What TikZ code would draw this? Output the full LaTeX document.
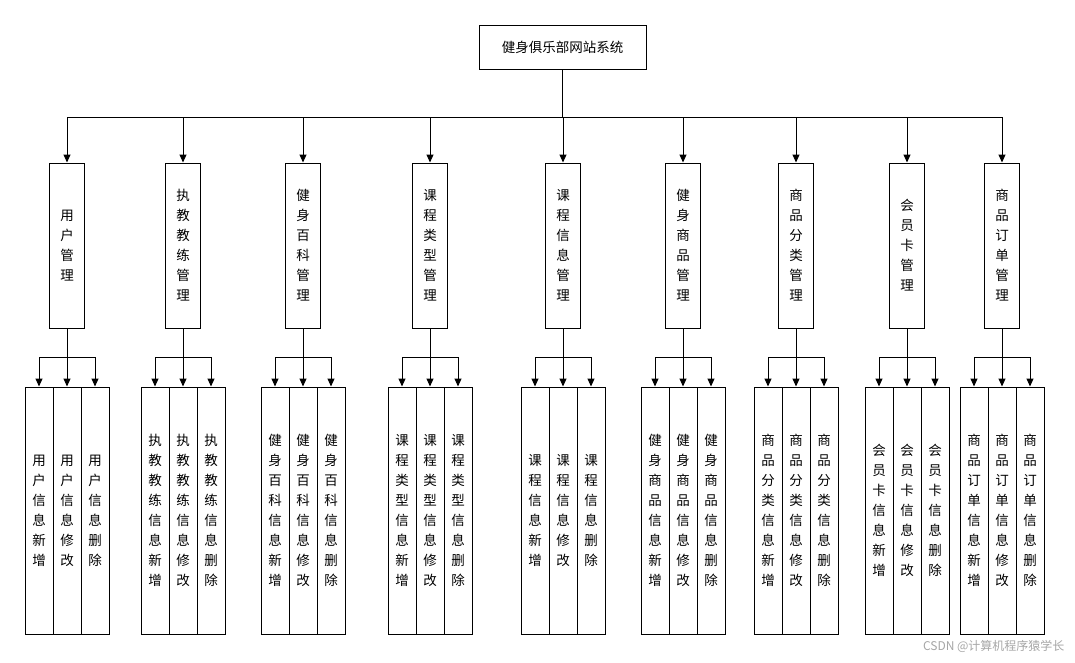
\documentclass[tikz,border=0pt]{standalone}
\usepackage{fontspec}
\setmainfont{Noto Sans CJK SC}
\usetikzlibrary{arrows.meta}
\begin{document}
\begin{tikzpicture}[x=1pt,y=-1pt,
  box/.style={draw,line width=1pt,inner sep=0pt,align=center,font=\fontsize{13.5}{20}\selectfont},
  lv2/.style={box,minimum width=35pt,minimum height=165pt},
  lv3/.style={box,minimum width=28pt,minimum height=247pt},
  arr/.style={line width=1pt,-{Triangle[length=8pt,width=7pt]}}]
\useasboundingbox (0,0) rectangle (1075,662);
\node[box,minimum width=167pt,minimum height=44pt] (top) at (562.5,47) {健身俱乐部网站系统};
\coordinate (bus) at (562.5,117);
\draw[line width=1pt] (top.south) -- (bus);
\foreach \cx/\txt/\ta/\tb/\tc [count=\i] in {
 67/用\\户\\管\\理/用\\户\\信\\息\\新\\增/用\\户\\信\\息\\修\\改/用\\户\\信\\息\\删\\除,
 183/执\\教\\教\\练\\管\\理/执\\教\\教\\练\\信\\息\\新\\增/执\\教\\教\\练\\信\\息\\修\\改/执\\教\\教\\练\\信\\息\\删\\除,
 303/健\\身\\百\\科\\管\\理/健\\身\\百\\科\\信\\息\\新\\增/健\\身\\百\\科\\信\\息\\修\\改/健\\身\\百\\科\\信\\息\\删\\除,
 430/课\\程\\类\\型\\管\\理/课\\程\\类\\型\\信\\息\\新\\增/课\\程\\类\\型\\信\\息\\修\\改/课\\程\\类\\型\\信\\息\\删\\除,
 563/课\\程\\信\\息\\管\\理/课\\程\\信\\息\\新\\增/课\\程\\信\\息\\修\\改/课\\程\\信\\息\\删\\除,
 683/健\\身\\商\\品\\管\\理/健\\身\\商\\品\\信\\息\\新\\增/健\\身\\商\\品\\信\\息\\修\\改/健\\身\\商\\品\\信\\息\\删\\除,
 796/商\\品\\分\\类\\管\\理/商\\品\\分\\类\\信\\息\\新\\增/商\\品\\分\\类\\信\\息\\修\\改/商\\品\\分\\类\\信\\息\\删\\除,
 907/会\\员\\卡\\管\\理/会\\员\\卡\\信\\息\\新\\增/会\\员\\卡\\信\\息\\修\\改/会\\员\\卡\\信\\息\\删\\除,
 1002/商\\品\\订\\单\\管\\理/商\\品\\订\\单\\信\\息\\新\\增/商\\品\\订\\单\\信\\息\\修\\改/商\\品\\订\\单\\信\\息\\删\\除}{
  \node[lv2] (m\i) at (\cx,245.5) {\txt};
  \draw[arr] (bus) -| (m\i.north);
  \node[lv3] (a\i) at (\cx-28,510.5) {\ta};
  \node[lv3] (b\i) at (\cx,510.5) {\tb};
  \node[lv3] (c\i) at (\cx+28,510.5) {\tc};
  \coordinate (s\i) at (\cx,357);
  \draw[line width=1pt] (m\i.south) -- (s\i);
  \draw[arr] (s\i) -| (a\i.north);
  \draw[arr] (s\i) -- (b\i.north);
  \draw[arr] (s\i) -| (c\i.north);
}
\node[text=gray!70,font=\fontsize{12}{14}\selectfont,anchor=east] (wm) at (1068,646) {CSDN @计算机程序猿学长};
\end{tikzpicture}
\end{document}
